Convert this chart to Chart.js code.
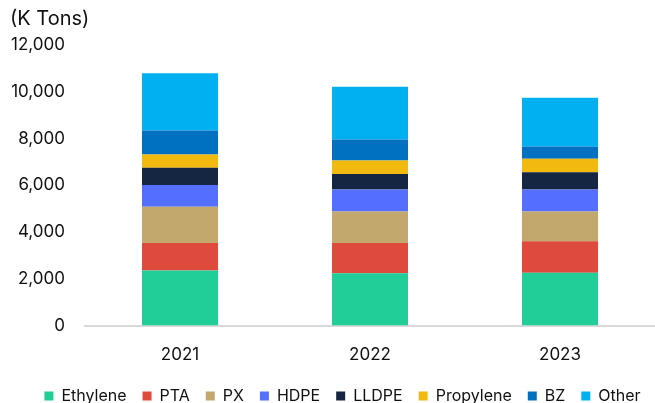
<!DOCTYPE html>
<html>
<head>
<meta charset="utf-8">
<script src="https://cdn.jsdelivr.net/npm/chart.js@4"></script>
<style>
  html, body { margin: 0; padding: 0; background: #fff; }
  #wrap { width: 655px; height: 403px; }
</style>
</head>
<body>
<div id="wrap"><canvas id="chart"></canvas></div>
<script>
const years = ['2021', '2022', '2023'];
const ethylene = [2355, 2241, 2255];
const pta = [1177, 1291, 1348];
const px = [1546, 1347, 1276];
const hdpe = [936, 937, 937];
const lldpe = [738, 666, 737];
const propylene = [567, 582, 582];
const bz = [1021, 893, 525];
const other = [2456, 2256, 2085];
const yTicks = [0, 2000, 4000, 6000, 8000, 10000, 12000];

const fontFamily = 'Inter, "Liberation Sans", Arial, sans-serif';

const series = [
  { label: 'Ethylene', data: ethylene, color: '#22CE97' },
  { label: 'PTA', data: pta, color: '#DE4A3C' },
  { label: 'PX', data: px, color: '#C3A86E' },
  { label: 'HDPE', data: hdpe, color: '#546EFF' },
  { label: 'LLDPE', data: lldpe, color: '#152642' },
  { label: 'Propylene', data: propylene, color: '#F2B90F' },
  { label: 'BZ', data: bz, color: '#0070C0' },
  { label: 'Other', data: other, color: '#00B0F0' },
];

// the legend in the original sits a little right of centre
const legendShift = {
  id: 'legendShift',
  afterLayout(chart) {
    chart.legend.left += 10;
    chart.legend.right += 10;
  },
};

new Chart(document.getElementById('chart'), {
  type: 'bar',
  data: {
    labels: years,
    datasets: series.map(s => ({
      label: s.label,
      data: s.data,
      backgroundColor: s.color,
      borderWidth: 0,
      barPercentage: 0.8,
      categoryPercentage: 0.5,
    })),
  },
  options: {
    responsive: true,
    maintainAspectRatio: false,
    animation: false,
    // negative bottom padding pulls the legend closer to the canvas edge
    layout: { padding: { left: 10, right: 0, top: 0, bottom: -11 } },
    plugins: {
      title: {
        display: true,
        text: '(K Tons)',
        align: 'start',
        color: '#111',
        font: { family: fontFamily, size: 20, weight: 'normal' },
        padding: { top: 7, bottom: 14 },
      },
      legend: {
        position: 'bottom',
        labels: {
          color: '#111',
          font: { family: fontFamily, size: 16 },
          boxWidth: 9,
          boxHeight: 9,
          padding: 16,
        },
      },
      tooltip: { enabled: false },
    },
    scales: {
      x: {
        stacked: true,
        afterFit: axis => { axis.height -= 12; },
        grid: { display: false, drawTicks: false },
        border: { display: true, color: '#d9d9d9', width: 2 },
        ticks: { color: '#111', font: { family: fontFamily, size: 17 }, padding: 19 },
      },
      y: {
        stacked: true,
        min: 0,
        max: 12000,
        afterBuildTicks: axis => { axis.ticks = yTicks.map(v => ({ value: v })); },
        afterFit: axis => { axis.width = 75; },
        grid: { display: false, drawTicks: false },
        border: { display: false },
        ticks: {
          color: '#111',
          font: { family: fontFamily, size: 17 },
          padding: 20,
          callback: v => v.toLocaleString('en-US'),
        },
      },
    },
  },
  plugins: [legendShift],
});
</script>
</body>
</html>
